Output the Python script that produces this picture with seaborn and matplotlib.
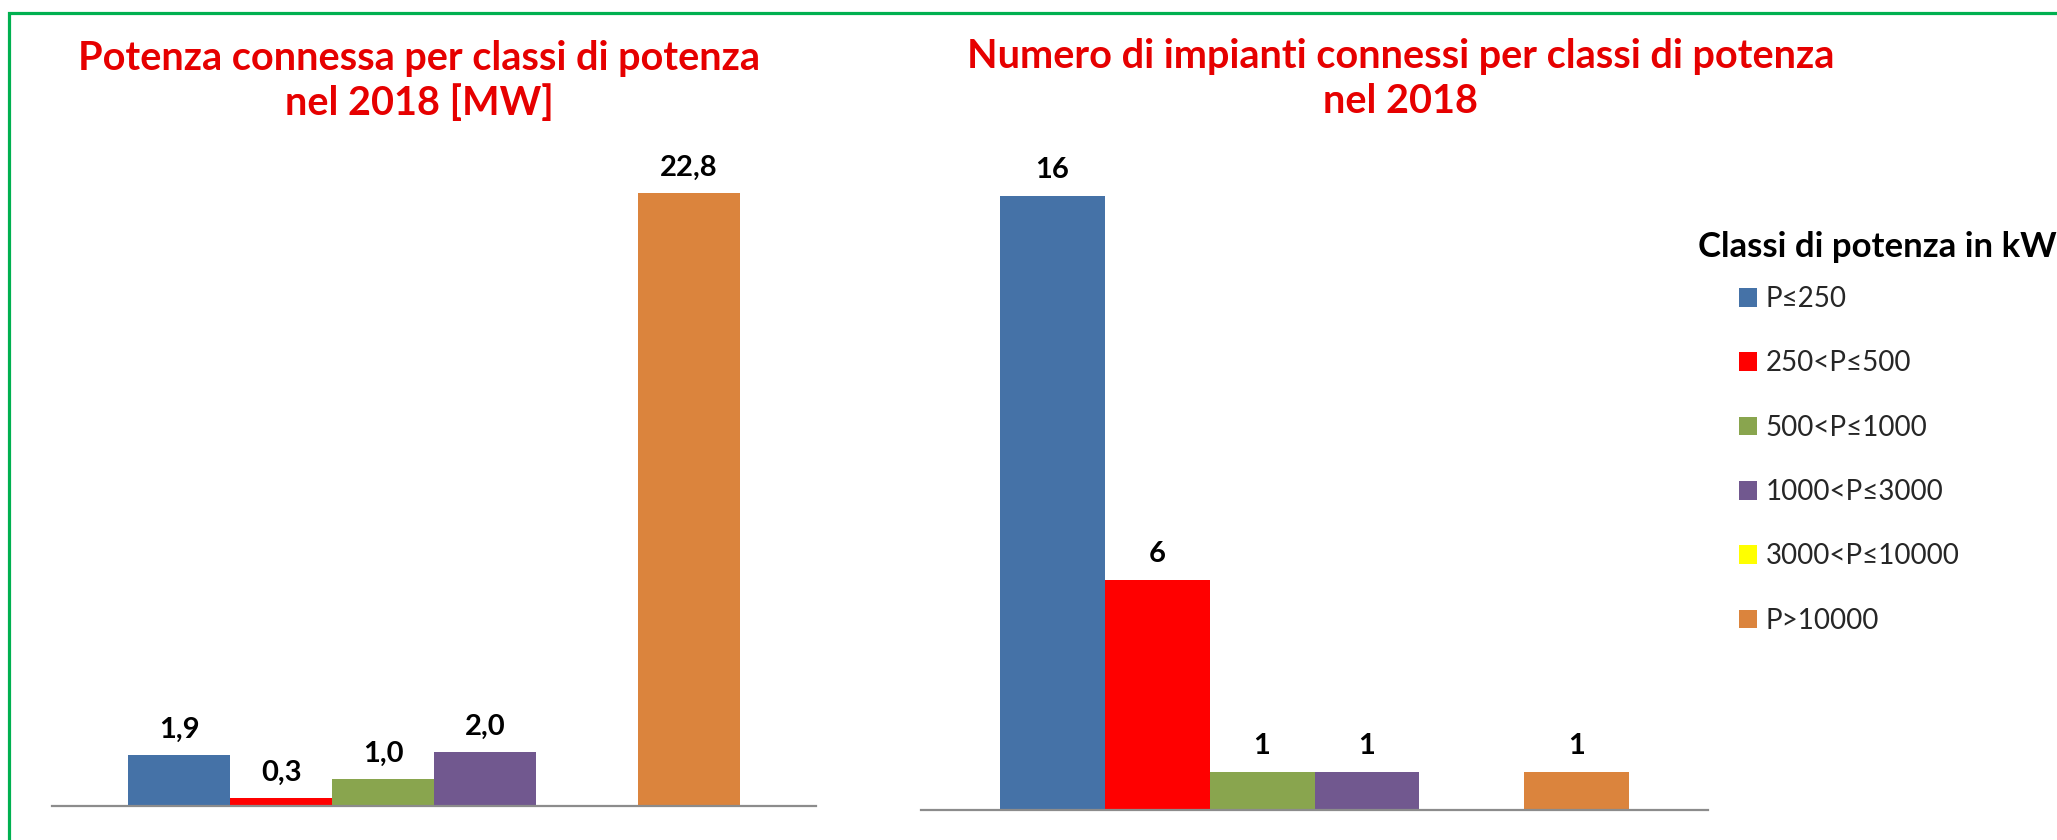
import pandas as pd
import matplotlib.pyplot as plt
from matplotlib.patches import Rectangle, Patch
import seaborn as sns

# classes and values
classes = ["P≤250", "250<P≤500", "500<P≤1000", "1000<P≤3000", "3000<P≤10000", "P>10000"]
potenza_mw = [1.9, 0.3, 1.0, 2.0, 0.0, 22.8]
num_impianti = [16, 6, 1, 1, 0, 1]
colori = ["#4572A7", "#FF0000", "#89A54E", "#71588F", "#FFFF00", "#DB843D"]
anno = "2018"

sns.set_style("white")
plt.rcParams["font.family"] = ["Lato", "DejaVu Sans"]

W, H = 2057, 840
fig = plt.figure(figsize=(W / 100, H / 100), dpi=100)


def px_axes(x0, x1, y_base, height):
    return fig.add_axes([x0 / W, (H - y_base) / H, (x1 - x0) / W, height / H])


def draw_panel(ax, values, ymax, fmt):
    df = pd.DataFrame({"anno": anno, "classe": classes, "valore": values})
    sns.barplot(data=df, x="anno", y="valore", hue="classe", hue_order=classes,
                palette=colori, saturation=1, width=0.8, linewidth=0,
                legend=False, ax=ax)
    ax.set_xlim(-0.5, 0.5)
    ax.set_ylim(0, ymax)
    for c, v in zip(ax.containers, values):
        if v > 0:
            ax.bar_label(c, labels=[fmt(v)], padding=9, fontsize=21,
                         fontweight="bold", color="black")
    for s in ["left", "top", "right"]:
        ax.spines[s].set_visible(False)
    ax.spines["bottom"].set_color("#8C8C8C")
    ax.spines["bottom"].set_linewidth(1.6)
    ax.set_yticks([])
    ax.set_xticks([-0.5, 0.5])
    ax.set_xticklabels(["", ""])
    ax.tick_params(axis="x", length=7, width=1.2, color="#8C8C8C", direction="out")
    ax.set_xlabel("")
    ax.set_ylabel("")
    ax.patch.set_alpha(0)


ax1 = px_axes(52, 816, 806, 672)
draw_panel(ax1, potenza_mw, 25, lambda v: f"{v:.1f}".replace(".", ","))

ax2 = px_axes(921, 1708, 810, 691)
draw_panel(ax2, num_impianti, 18, lambda v: f"{int(v)}")

title_kw = dict(ha="center", va="center", fontsize=28.5, fontweight="bold",
                color="#E60000", linespacing=1.26)
fig.text(419.5 / W, 1 - 81 / H, "Potenza connessa per classi di potenza\nnel 2018 [MW]", **title_kw)
fig.text(1400.5 / W, 1 - 79 / H, "Numero di impianti connessi per classi di potenza\nnel 2018", **title_kw)

# legend
fig.text(1698 / W, 1 - 247 / H, "Classi di potenza in kW", ha="left", va="center",
         fontsize=25, fontweight="bold", color="black")
handles = [Patch(facecolor=c, edgecolor="none") for c in colori]
fig.legend(handles, classes, loc="upper left", bbox_to_anchor=(1739 / W, 1 - 286 / H),
           frameon=False, fontsize=20, handlelength=0.65, handleheight=0.65,
           handletextpad=0.3, labelspacing=1.38, borderpad=0, borderaxespad=0)

# green frame
fig.patches.append(Rectangle((9 / W, -0.2), 1.2, 1.2 - 12.5 / H, transform=fig.transFigure,
                             fill=False, edgecolor="#00B050", linewidth=2.3))

fig.savefig("out.png", dpi=100)
